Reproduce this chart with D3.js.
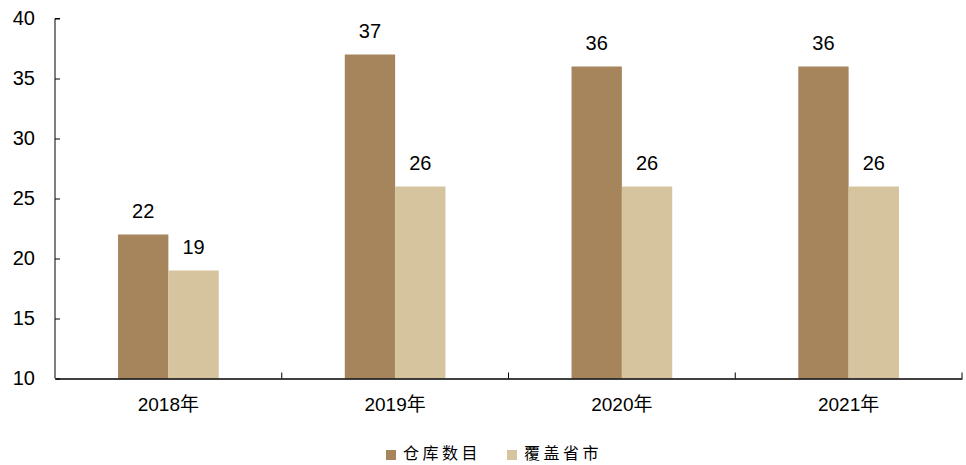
<!DOCTYPE html>
<html><head><meta charset="utf-8">
<script src="https://cdn.jsdelivr.net/npm/d3@7"></script>
<style>body{margin:0;background:#fff}</style>
</head><body>
<svg id="c" width="966" height="465"></svg>
<script>
const categories = ["2018年","2019年","2020年","2021年"];
const seriesNames = ["仓库数目","覆盖省市"];
const warehouses = [22,37,36,36];
const provinces = [19,26,26,26];
const yTicks = [10,15,20,25,30,35,40];
const colors = ["#A6845C","#D5C49D"];

const svg = d3.select("#c");
const L=55, R=962, T=18.5, B=378.5;
const x = d3.scaleBand().domain(categories).range([L,R]);
const y = d3.scaleLinear().domain([10,40]).range([B,T]);
const barW = x.bandwidth()*0.222;
const series = [warehouses, provinces];

const g = svg.append("g");
series.forEach((vals,si)=>{
  g.selectAll(null).data(categories).enter().append("rect")
    .attr("x", d=>x(d)+x.bandwidth()/2 - barW + si*barW)
    .attr("width", barW)
    .attr("y", (d,i)=>y(vals[i]))
    .attr("height", (d,i)=>B-y(vals[i]))
    .attr("fill", colors[si]);
  g.selectAll(null).data(categories).enter().append("text")
    .attr("x", d=>x(d)+x.bandwidth()/2 - barW/2 + si*barW)
    .attr("y", (d,i)=>y(vals[i])-16.5)
    .attr("text-anchor","middle")
    .attr("font-family","'Liberation Sans', Arial, sans-serif")
    .attr("font-size",20)
    .attr("fill","#000")
    .text((d,i)=>vals[i]);
});

// y axis
const ya = svg.append("g").attr("transform",`translate(${L},0)`)
  .call(d3.axisRight(y).tickValues(yTicks).tickSize(5).tickFormat(d3.format("d")));
ya.select(".domain").attr("stroke","#000").attr("d",`M5,${T}H0V${B}`);
ya.selectAll(".tick line").attr("stroke","#000");
ya.selectAll(".tick text").attr("x",-20).attr("text-anchor","end")
  .attr("font-family","'Liberation Sans', Arial, sans-serif").attr("font-size",20).attr("fill","#000");

// x axis
const xa = svg.append("g").attr("transform",`translate(0,${B})`)
  .call(d3.axisBottom(x).tickSize(0).tickPadding(19));
xa.select(".domain").attr("stroke","#000").attr("stroke-width",1.3);
xa.selectAll(".tick text").attr("font-family","'Liberation Sans', 'Noto Sans CJK SC', sans-serif").attr("font-size",19).attr("fill","#000");
const bounds = categories.map(c=>x(c)+x.bandwidth());
svg.append("g").selectAll("line").data(bounds).enter().append("line")
  .attr("x1",d=>d).attr("x2",d=>d).attr("y1",B).attr("y2",B-6).attr("stroke","#000");

// legend
const leg = svg.append("g");
const lx = [386, 507];
seriesNames.forEach((n,i)=>{
  leg.append("rect").attr("x",lx[i]).attr("y",450).attr("width",10).attr("height",10).attr("fill",colors[i]);
  leg.append("text").attr("x",lx[i]+17).attr("y",452)
    .attr("dominant-baseline","central")
    .attr("font-family","'Noto Sans CJK SC', sans-serif").attr("font-size",16)
    .attr("letter-spacing",3.5).attr("fill","#000").text(n);
});
</script>
</body></html>
